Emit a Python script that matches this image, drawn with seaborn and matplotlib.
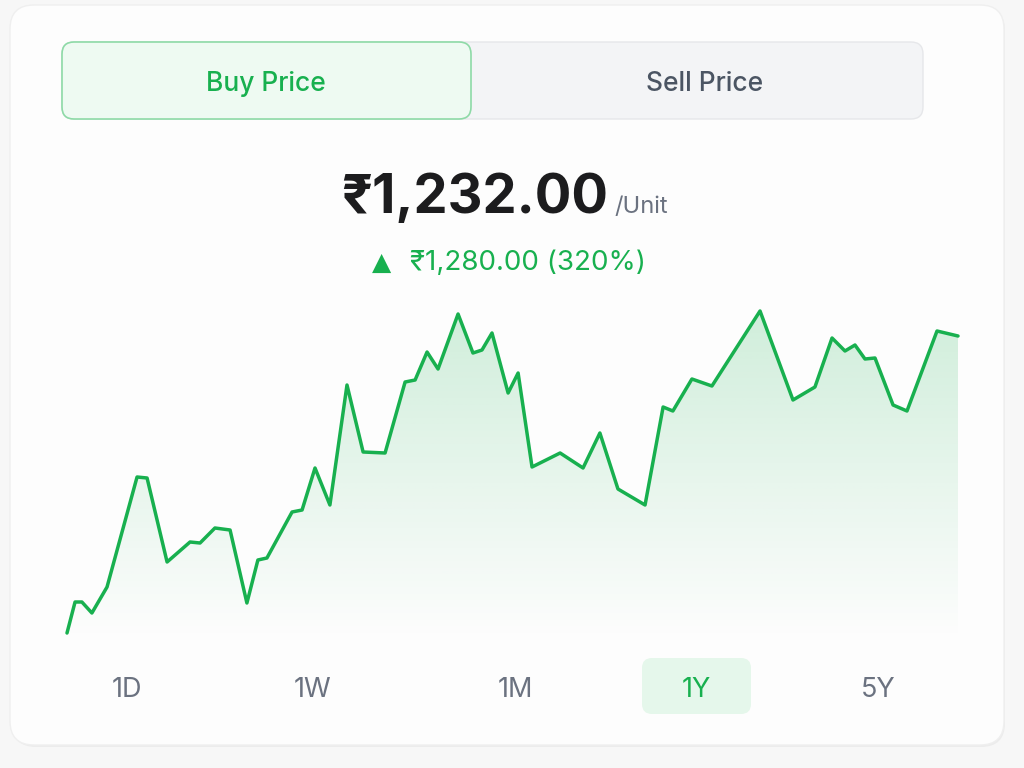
import numpy as np
import pandas as pd
import matplotlib.pyplot as plt
import seaborn as sns
from matplotlib.patches import FancyBboxPatch

# Dados do gráfico (dia do ano, preço)
days = [0, 3.3, 6.1, 10.2, 16.4, 28.7, 32.8, 41.0, 50.4, 54.5, 60.6, 66.8, 73.7, 78.2,
        81.9, 92.2, 96.3, 101.6, 107.7, 114.7, 121.3, 130.3, 138.5, 142.6, 147.5, 152.0,
        160.2, 166.3, 170.0, 174.1, 180.7, 184.8, 190.5, 202.0, 211.4, 218.3, 225.7,
        236.8, 244.2, 248.2, 256.0, 264.2, 283.9, 297.4, 306.4, 313.4, 318.7, 322.8,
        326.9, 331.0, 338.4, 344.1, 356.4, 365.0]
prices = [341, 434, 434, 401, 479, 809, 806, 554, 614, 611, 656, 650, 431, 560,
          566, 704, 710, 836, 725, 1085, 884, 881, 1094, 1100, 1184, 1133,
          1298, 1181, 1190, 1241, 1061, 1121, 839, 881, 836, 941, 773,
          725, 1019, 1007, 1103, 1082, 1307, 1040, 1079, 1226, 1187, 1205,
          1163, 1166, 1025, 1007, 1247, 1232]
tabs = ['Buy Price', 'Sell Price']
ranges = ['1D', '1W', '1M', '1Y', '5Y']
active_range = '1Y'
price_text = '₹1,232.00'
change_text = '₹1,280.00 (320%)'

df = pd.DataFrame({'day': days, 'price': prices})

GREEN = '#18b04f'
GRAY = '#6b7280'
FONT = ['Inter', 'DejaVu Sans']

sns.set_theme(style='white')
plt.rcParams['font.family'] = FONT

fig = plt.figure(figsize=(10.24, 7.68), dpi=100)
fig.patch.set_facecolor('#f7f7f7')

# camada de fundo em coordenadas de pixel
bg = fig.add_axes([0, 0, 1, 1])
bg.set_xlim(0, 1024)
bg.set_ylim(768, 0)
bg.axis('off')

def rbox(x0, y0, x1, y1, r, fc, ec, lw=1.0, z=1):
    p = FancyBboxPatch((x0 + r, y0 + r), x1 - x0 - 2 * r, y1 - y0 - 2 * r,
                       boxstyle=f'round,pad={r}', fc=fc, ec=ec, lw=lw, zorder=z)
    bg.add_patch(p)

# cartão
rbox(12, 7, 1005, 747, 24, '#ececec', 'none', z=0)
rbox(10, 5, 1004, 745, 24, '#fdfdfd', '#efefef', lw=1, z=1)

# abas
rbox(62, 42, 923, 119, 12, '#f3f4f6', '#e6e7ea', lw=1, z=2)
rbox(62, 42, 471, 119, 12, '#eefaf2', '#8edaa7', lw=1.2, z=3)
bg.text(266, 91, tabs[0], ha='center', va='baseline', fontsize=19, color=GREEN,
        fontweight='medium', zorder=5)
bg.text(705, 91, tabs[1], ha='center', va='baseline', fontsize=19, color='#4b5563',
        fontweight='medium', zorder=5)

# preço
bg.text(608, 213, price_text, ha='right', va='baseline', fontsize=39, color='#1c1c1e',
        fontweight='bold', zorder=5)
bg.text(614, 213, '/Unit', ha='left', va='baseline', fontsize=17, color=GRAY, zorder=5)
bg.text(382, 270, '▲', ha='center', va='baseline', fontsize=18, color=GREEN,
        family=['DejaVu Sans'], zorder=5)
bg.text(410, 270, change_text, ha='left', va='baseline', fontsize=20, color=GREEN, zorder=5)

# botões de período
range_x = [127, 313, 515, 696, 878]
for lab, xc in zip(ranges, range_x):
    if lab == active_range:
        rbox(642, 658, 751, 714, 10, '#e5f7eb', 'none', z=2)
        col = GREEN
    else:
        col = GRAY
    bg.text(xc, 697, lab, ha='center', va='baseline', fontsize=19.5, color=col, zorder=5)

# gráfico de linha
ax = fig.add_axes([67 / 1024, 1 - 640 / 768, 891 / 1024, 340 / 768])
ax.set_facecolor('none')
ax.set_xlim(0, 365)
ax.set_ylim(320, 1340)
ax.axis('off')

fill = ax.fill_between(df['day'], df['price'], 320, color='none', lw=0)
grad = np.zeros((256, 2, 4))
grad[..., :3] = np.array([0x18, 0xb0, 0x4f]) / 255
grad[..., 3] = np.linspace(0, 0.2, 256)[:, None]
im = ax.imshow(grad, extent=[0, 365, 320, 1320], origin='lower', aspect='auto',
               zorder=1)
im.set_clip_path(fill.get_paths()[0], transform=ax.transData)

sns.lineplot(data=df, x='day', y='price', ax=ax, color=GREEN, lw=2.5, zorder=3)
for ln in ax.lines:
    ln.set_solid_joinstyle('round')
    ln.set_solid_capstyle('round')
    ln.set_clip_on(False)
ax.set_xlim(0, 365)
ax.set_ylim(320, 1340)

fig.savefig('out.png', dpi=100)
